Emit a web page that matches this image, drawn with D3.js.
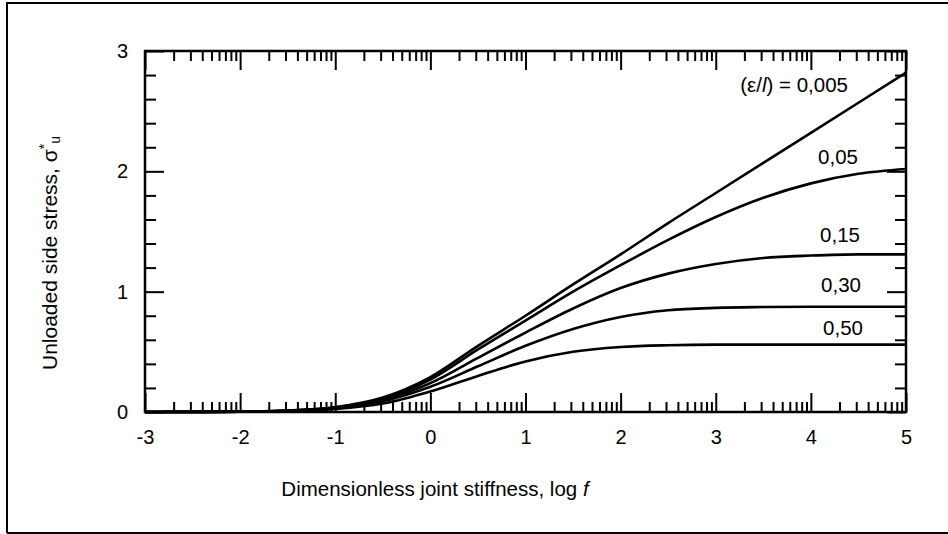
<!DOCTYPE html>
<html>
<head>
<meta charset="utf-8">
<script src="https://cdn.jsdelivr.net/npm/d3@7"></script>
<style>
  html, body { margin: 0; padding: 0; background: #fff; }
  svg { display: block; }
  text { font-family: "Liberation Sans", Arial, sans-serif; fill: #000; }
</style>
</head>
<body>
<svg id="chart" width="948" height="534"></svg>
<script>
// log f values at which each curve is sampled
const logF = [-3, -2.5, -2, -1.5, -1, -0.5, 0, 0.5, 1, 1.5, 2, 2.5, 3, 3.5, 4, 4.5, 5];

// (ε/l) ratios for each curve
const ratioLabels = ["(ε/l) = 0,005", "0,05", "0,15", "0,30", "0,50"];

// Unloaded side stress σ*u for each ratio
const s0005 = [0, 0.001, 0.003, 0.012, 0.04, 0.12, 0.29, 0.55, 0.80, 1.06, 1.31, 1.57, 1.82, 2.07, 2.32, 2.57, 2.82];
const s005  = [0, 0.001, 0.003, 0.012, 0.04, 0.11, 0.27, 0.52, 0.76, 1.00, 1.22, 1.43, 1.62, 1.78, 1.90, 1.98, 2.02];
const s015  = [0, 0.001, 0.003, 0.011, 0.035, 0.10, 0.24, 0.45, 0.66, 0.86, 1.03, 1.15, 1.23, 1.28, 1.30, 1.31, 1.31];
const s030  = [0, 0.001, 0.003, 0.010, 0.03, 0.09, 0.21, 0.38, 0.55, 0.69, 0.79, 0.845, 0.865, 0.872, 0.875, 0.875, 0.875];
const s050  = [0, 0.001, 0.002, 0.008, 0.025, 0.07, 0.17, 0.30, 0.42, 0.50, 0.54, 0.555, 0.56, 0.56, 0.56, 0.56, 0.56];
const seriesValues = [s0005, s005, s015, s030, s050];

// axis ticks
const xMajorTicks = [-3, -2, -1, 0, 1, 2, 3, 4, 5];
const yMajorTicks = [0, 1, 2, 3];

const svg = d3.select("#chart");

// outer frame (left, top and bottom edges)
svg.append("path")
  .attr("d", "M7,533 L7,3 L948,3 M7,533 L948,533")
  .attr("fill", "none").attr("stroke", "#000").attr("stroke-width", 2);

const x = d3.scaleLinear().domain([-3, 5]).range([145, 906]);
const y = d3.scaleLinear().domain([0, 3]).range([412, 51]);

// minor log ticks within each decade, minor stress ticks every 0.2
const xMinor = [];
for (let d = -3; d < 5; d++) for (let k = 2; k <= 9; k++) xMinor.push(d + Math.log10(k));
const yMinor = d3.range(0, 3.0001, 0.2).filter(v => Math.abs(v - Math.round(v)) > 1e-6);

const fmt = d => String(d);

function styleAxis(g) {
  g.select(".domain").remove();
  g.selectAll(".tick line").attr("stroke", "#000").attr("stroke-width", 2);
  g.selectAll("text").attr("font-size", 20).attr("font-family", "Liberation Sans, Arial, sans-serif");
}

// bottom axis
svg.append("g").attr("transform", `translate(0,${y(0)})`)
  .call(d3.axisBottom(x).tickValues(xMinor).tickSize(-10).tickFormat(""))
  .call(styleAxis);
svg.append("g").attr("transform", `translate(0,${y(0)})`)
  .call(d3.axisBottom(x).tickValues(xMajorTicks).tickSize(-19).tickPadding(18).tickFormat(fmt))
  .call(styleAxis);

// top axis
svg.append("g").attr("transform", `translate(0,${y(3)})`)
  .call(d3.axisTop(x).tickValues(xMinor).tickSize(-10).tickFormat(""))
  .call(styleAxis);
svg.append("g").attr("transform", `translate(0,${y(3)})`)
  .call(d3.axisTop(x).tickValues(xMajorTicks).tickSize(-19).tickFormat(""))
  .call(styleAxis);

// left axis
svg.append("g").attr("transform", `translate(${x(-3)},0)`)
  .call(d3.axisLeft(y).tickValues(yMinor).tickSize(-11).tickFormat(""))
  .call(styleAxis);
svg.append("g").attr("transform", `translate(${x(-3)},0)`)
  .call(d3.axisLeft(y).tickValues(yMajorTicks).tickSize(-19).tickPadding(17).tickFormat(fmt))
  .call(styleAxis);

// right axis
svg.append("g").attr("transform", `translate(${x(5)},0)`)
  .call(d3.axisRight(y).tickValues(yMinor).tickSize(-11).tickFormat(""))
  .call(styleAxis);
svg.append("g").attr("transform", `translate(${x(5)},0)`)
  .call(d3.axisRight(y).tickValues(yMajorTicks).tickSize(-19).tickFormat(""))
  .call(styleAxis);

// plot box
svg.append("rect")
  .attr("x", x(-3)).attr("y", y(3))
  .attr("width", x(5) - x(-3)).attr("height", y(0) - y(3))
  .attr("fill", "none").attr("stroke", "#000").attr("stroke-width", 2.5);

// curves
const line = d3.line()
  .x((d, i) => x(logF[i]))
  .y(d => y(d))
  .curve(d3.curveMonotoneX);

svg.append("g").selectAll("path")
  .data(seriesValues)
  .join("path")
  .attr("d", line)
  .attr("fill", "none")
  .attr("stroke", "#000")
  .attr("stroke-width", 2.6)
  .attr("stroke-linejoin", "round");

// curve labels
const labelPos = [
  { x: 848, y: 92 },
  { x: 858, y: 164 },
  { x: 860, y: 242 },
  { x: 861, y: 292 },
  { x: 863, y: 335 }
];
const lab = svg.append("g").attr("font-size", 20.5).attr("text-anchor", "end");
lab.append("text").attr("x", labelPos[0].x).attr("y", labelPos[0].y)
  .call(t => {
    t.append("tspan").text("(ε/");
    t.append("tspan").attr("font-style", "italic").text("l");
    t.append("tspan").text(") = 0,005");
  });
ratioLabels.slice(1).forEach((s, i) => {
  lab.append("text").attr("x", labelPos[i + 1].x).attr("y", labelPos[i + 1].y).text(s);
});

// axis titles
svg.append("text")
  .attr("x", 435).attr("y", 496)
  .attr("text-anchor", "middle").attr("font-size", 20.5)
  .call(t => {
    t.append("tspan").text("Dimensionless joint stiffness, log ");
    t.append("tspan").attr("font-style", "italic").text("f");
  });

svg.append("text")
  .attr("transform", "translate(57,253) rotate(-90)")
  .attr("text-anchor", "middle").attr("font-size", 21)
  .call(t => {
    t.append("tspan").text("Unloaded side stress, σ");
    t.append("tspan").attr("font-size", 14).attr("dy", -8).text("*");
    t.append("tspan").attr("font-size", 14).attr("dy", 11).text("u");
  });
</script>
</body>
</html>
